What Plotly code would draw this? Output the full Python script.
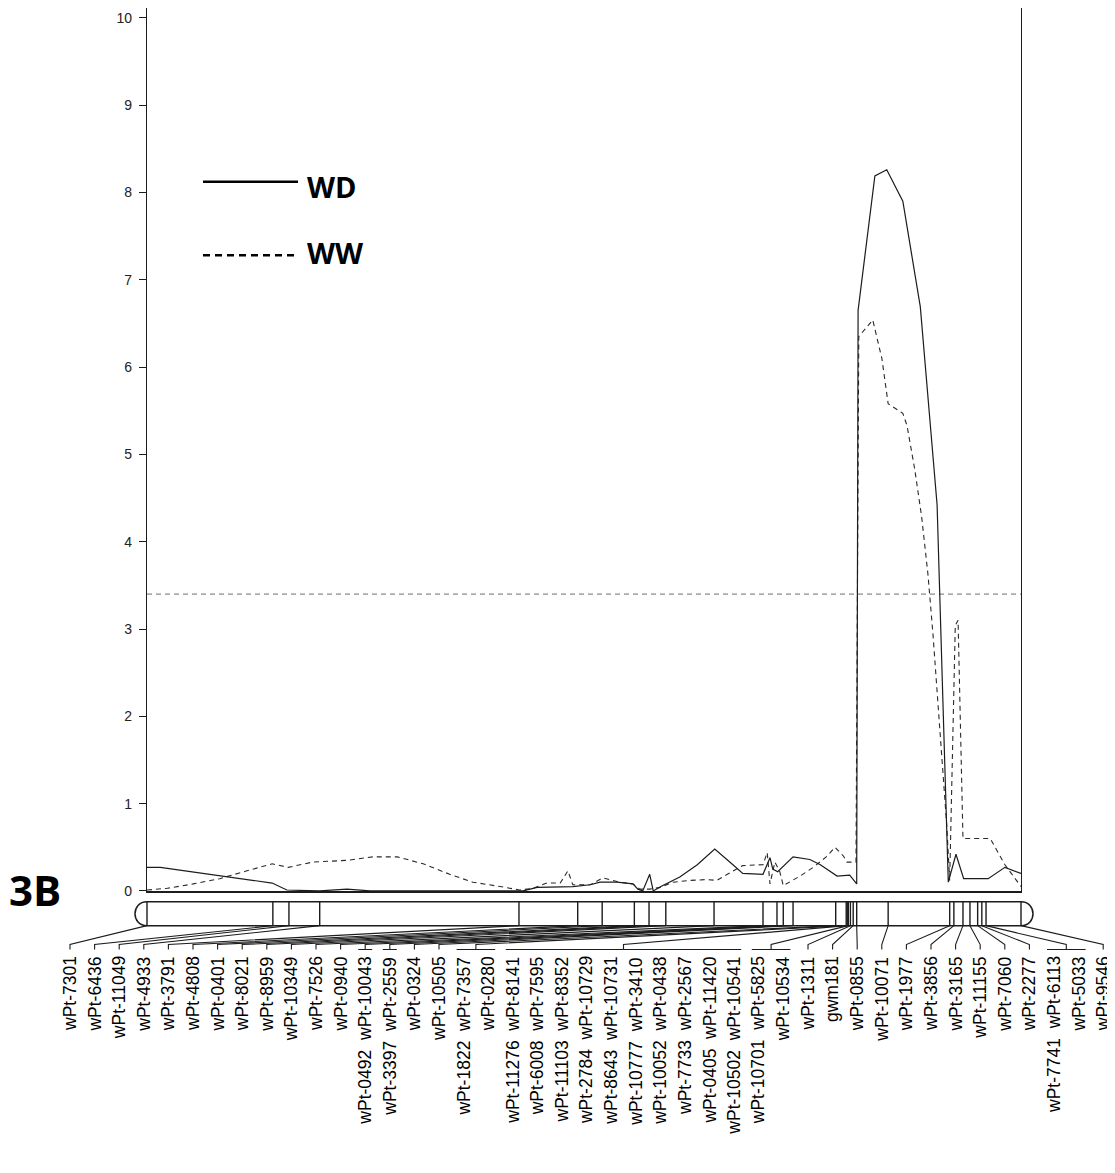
import plotly.graph_objects as go

# page (screenshot) size and the default 8px body margin of the html page
PAGE_W, PAGE_H = 1115, 1173
OFF = 8
W, H = PAGE_W - OFF, PAGE_H - OFF

# ---------------- data ----------------
chrom_len = 125.0  # cM, length of linkage group 3B

# WD (solid) LOD profile
wd_cm = [0.0, 1.9, 17.9, 20.0, 24.7, 28.6, 31.9, 53.8, 55.8, 59.1, 60.9, 63.4, 64.8, 67.2,
         69.5, 70.2, 70.9, 71.9, 72.4, 73.7, 76.2, 78.7, 81.2, 83.8, 85.2, 88.1, 89.1, 89.5,
         90.2, 92.4, 94.8, 96.3, 98.7, 100.5, 101.5, 101.7, 104.1, 105.8, 108.1, 110.6,
         113.0, 114.6, 115.7, 116.8, 120.3, 122.7, 125.0]
wd_lod = [0.27, 0.27, 0.09, 0.01, 0.0, 0.02, 0.0, 0.0, 0.04, 0.05, 0.05, 0.07, 0.10, 0.10,
          0.08, 0.02, 0.0, 0.19, 0.0, 0.06, 0.16, 0.30, 0.48, 0.30, 0.20, 0.19, 0.38, 0.25,
          0.22, 0.39, 0.36, 0.30, 0.17, 0.18, 0.08, 6.65, 8.19, 8.26, 7.90, 6.69,
          4.42, 0.10, 0.42, 0.14, 0.14, 0.27, 0.20]

# WW (dashed) LOD profile
ww_cm = [0.0, 2.9, 6.6, 10.4, 14.3, 17.9, 20.2, 23.7, 28.6, 32.3, 35.8, 39.5, 43.3, 46.6,
         50.5, 53.3, 55.2, 57.2, 59.1, 60.2, 60.9, 63.4, 65.2, 67.6, 69.5, 70.5, 71.9, 73.4,
         75.2, 77.7, 80.1, 81.5, 83.0, 85.2, 88.1, 88.7, 89.1, 89.8, 90.5, 91.0, 93.4, 95.3,
         97.3, 98.4, 99.6, 100.1, 101.4, 101.8, 103.8, 105.1, 106.0, 107.0, 108.1, 108.7,
         109.8, 110.8, 111.7, 112.4, 113.4, 114.4, 114.8, 115.6, 116.0, 116.7, 120.6,
         122.7, 125.0]
ww_lod = [0.01, 0.03, 0.08, 0.14, 0.23, 0.31, 0.27, 0.33, 0.35, 0.39, 0.39, 0.31, 0.19, 0.10,
          0.05, 0.01, 0.03, 0.09, 0.09, 0.23, 0.07, 0.07, 0.15, 0.10, 0.08, 0.02, 0.02, 0.04,
          0.10, 0.12, 0.13, 0.12, 0.19, 0.29, 0.30, 0.44, 0.08, 0.33, 0.22, 0.06, 0.17, 0.27,
          0.40, 0.50, 0.40, 0.33, 0.33, 6.35, 6.54, 6.10, 5.58, 5.53, 5.47, 5.33,
          4.83, 4.28, 3.62, 2.95, 1.84, 0.73, 0.12, 3.04, 3.10, 0.60, 0.60,
          0.30, 0.05]

threshold_lod = 3.4

# markers: label column text (co-located names joined) and map position (cM)
marker_labels = [
    "wPt-7301", "wPt-6436", "wPt-11049", "wPt-4933", "wPt-3791", "wPt-4808", "wPt-0401",
    "wPt-8021", "wPt-8959", "wPt-10349", "wPt-7526", "wPt-0940", "wPt-0492 wPt-10043",
    "wPt-3397 wPt-2559", "wPt-0324", "wPt-10505", "wPt-1822 wPt-7357", "wPt-0280",
    "wPt-11276 wPt-8141", "wPt-6008 wPt-7595", "wPt-11103 wPt-8352", "wPt-2784 wPt-10729",
    "wPt-8643 wPt-10731", "wPt-10777 wPt-3410", "wPt-10052 wPt-0438", "wPt-7733 wPt-2567",
    "wPt-0405 wPt-11420", "wPt-10502 wPt-10541", "wPt-10701 wPt-5825", "wPt-10534",
    "wPt-1311", "gwm181", "wPt-0855", "wPt-10071", "wPt-1977", "wPt-3856", "wPt-3165",
    "wPt-11155", "wPt-7060", "wPt-2277", "wPt-7741 wPt-6113", "wPt-5033", "wPt-9546"]
marker_cm = [
    0.0, 18.0, 20.3, 24.7, 53.2, 61.6, 65.1, 69.7, 71.8, 74.2, 81.1, 88.1, 90.1,
    91.0, 92.4, 98.5, 100.0, 100.0,
    100.15, 100.15, 100.15, 100.15, 100.15, 100.15, 100.15, 100.15, 100.15, 100.15,
    100.3, 100.3, 100.6, 101.0, 101.5, 106.0, 114.8, 115.4, 116.7, 117.7, 118.8, 119.4,
    120.0, 120.0, 125.0]

y_ticks = list(range(0, 11))

# ---------------- layout geometry (page pixels) ----------------
PX_L, PX_R = 147, 1021          # plot area x
PX_Y0, PX_Y10 = 897, 18         # rows of LOD 0 and LOD 10
px_per_cm = (PX_R - PX_L) / chrom_len
px_per_lod = (PX_Y0 - PX_Y10) / 10.0


def fx(px):
    return (px - OFF) / W


def fy(py):
    return (PAGE_H - py) / H


# schematic (lower) axis: x in cM aligned with main axis, y in page rows
x2_range = [(OFF - PX_L) / px_per_cm, (PAGE_W - PX_L) / px_per_cm]
BAR_TOP, BAR_BOT = 908, 932
CONN_Y, TICK_Y, LABEL_Y = 951, 956, 961
CAP = 12 / px_per_cm             # cap radius in cM
LAB0 = (70 - PX_L) / px_per_cm
LAB_STEP = 24.6 / px_per_cm
HALF_BR = 7 / px_per_cm

LINE = "#1c1c1c"

fig = go.Figure()

fig.add_trace(go.Scatter(x=[0, chrom_len], y=[threshold_lod, threshold_lod], mode="lines",
                         line=dict(color="#6e6e6e", width=1, dash="5px,4px"),
                         hoverinfo="skip", showlegend=False))
fig.add_trace(go.Scatter(x=ww_cm, y=ww_lod, mode="lines", name="WW",
                         line=dict(color="#2a2a2a", width=1.1, dash="5px,4px"),
                         showlegend=False))
fig.add_trace(go.Scatter(x=wd_cm, y=wd_lod, mode="lines", name="WD",
                         line=dict(color=LINE, width=1.2), showlegend=False))

shapes = []
# chromosome bar with rounded ends
k = CAP * 4 / 3
bar_path = (f"M 0,{BAR_TOP} L {chrom_len},{BAR_TOP} "
            f"C {chrom_len + k},{BAR_TOP} {chrom_len + k},{BAR_BOT} {chrom_len},{BAR_BOT} "
            f"L 0,{BAR_BOT} C {-k},{BAR_BOT} {-k},{BAR_TOP} 0,{BAR_TOP} Z")
shapes.append(dict(type="path", xref="x2", yref="y2", path=bar_path,
                   line=dict(color=LINE, width=1.5), fillcolor="white", layer="below"))

# marker ticks inside bar
for p in sorted(set(marker_cm)):
    shapes.append(dict(type="line", xref="x2", yref="y2", x0=p, x1=p, y0=BAR_TOP, y1=BAR_BOT,
                       line=dict(color=LINE, width=1.4)))

# connectors and brackets
n = len(marker_labels)
lab_x = [LAB0 + i * LAB_STEP for i in range(n)]
i = 0
while i < n:
    j = i
    while j + 1 < n and marker_cm[j + 1] == marker_cm[i]:
        j += 1
    p = marker_cm[i]
    mid = (lab_x[i] + lab_x[j]) / 2
    path = f"M {p},{BAR_BOT} L {mid},{CONN_Y} L {mid},{TICK_Y}"
    if j > i or " " in marker_labels[i]:
        path += f" M {lab_x[i] - HALF_BR},{TICK_Y} L {lab_x[j] + HALF_BR},{TICK_Y}"
    shapes.append(dict(type="path", xref="x2", yref="y2", path=path,
                       line=dict(color=LINE, width=1.1)))
    i = j + 1

# legend lines
shapes.append(dict(type="line", xref="paper", yref="paper",
                   x0=fx(203), x1=fx(298), y0=fy(183), y1=fy(183),
                   line=dict(color="black", width=2.5)))
shapes.append(dict(type="line", xref="paper", yref="paper",
                   x0=fx(203), x1=fx(298), y0=fy(257), y1=fy(257),
                   line=dict(color="black", width=2.5, dash="7px,5px")))

annotations = []
for lx, txt in zip(lab_x, marker_labels):
    annotations.append(dict(x=lx, y=LABEL_Y, xref="x2", yref="y2",
                            text=txt.replace(" ", "&nbsp;&nbsp;"),
                            textangle=-90, showarrow=False, xanchor="center", yanchor="top",
                            font=dict(family="Liberation Sans, Arial", size=17.5, color="black")))
annotations.append(dict(x=fx(305), y=fy(188), xref="paper", yref="paper", text="<b>WD</b>",
                        showarrow=False, xanchor="left", yanchor="middle",
                        font=dict(family="Open Sans", size=29, color="black")))
annotations.append(dict(x=fx(305), y=fy(254), xref="paper", yref="paper", text="<b>WW</b>",
                        showarrow=False, xanchor="left", yanchor="middle",
                        font=dict(family="Open Sans", size=29, color="black")))
annotations.append(dict(x=fx(35), y=fy(896), xref="paper", yref="paper", text="<b>3B</b>",
                        showarrow=False, xanchor="center", yanchor="middle",
                        font=dict(family="Open Sans", size=42, color="black")))

fig.update_layout(
    width=W, height=H, margin=dict(l=0, r=0, t=0, b=0),
    paper_bgcolor="white", plot_bgcolor="white",
    xaxis=dict(domain=[fx(PX_L), fx(PX_R)], range=[0, chrom_len], showgrid=False,
               zeroline=False, showticklabels=False, ticks="", showline=True,
               linecolor=LINE, linewidth=1.5, anchor="y"),
    yaxis=dict(domain=[fy(PX_Y0), 1], range=[0, (PX_Y0 - OFF) / px_per_lod],
               tickvals=y_ticks, ticktext=[str(v) for v in y_ticks], showgrid=False,
               zeroline=False, ticks="outside", ticklen=7, tickwidth=1, tickcolor=LINE,
               showline=True, mirror=True, linecolor=LINE, linewidth=1.3,
               tickfont=dict(family="Liberation Sans, Arial", size=14, color="#222222"),
               ticklabelstandoff=4, anchor="x"),
    xaxis2=dict(domain=[0, 1], range=x2_range, visible=False, anchor="y2"),
    yaxis2=dict(domain=[0, fy(PX_Y0)], range=[PAGE_H, PX_Y0], visible=False, anchor="x2"),
    shapes=shapes, annotations=annotations, showlegend=False,
)

fig.write_html("out.html")
